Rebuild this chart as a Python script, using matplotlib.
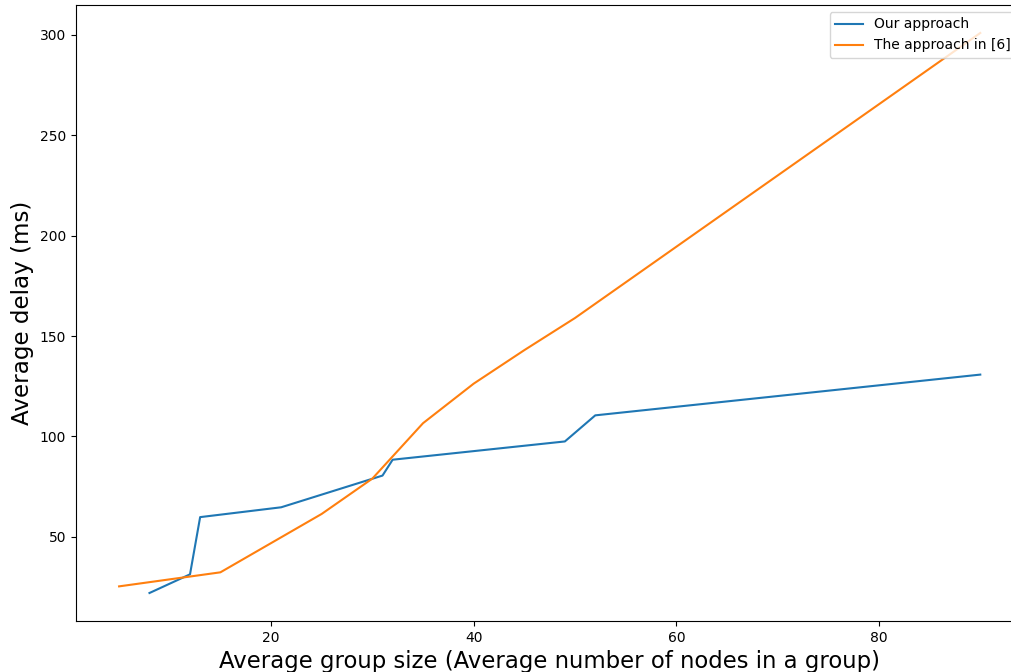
import numpy as np
import matplotlib.pyplot as plt

# group size vs. average delay for both schemes
ours_size = [8, 12, 13, 21, 31, 32, 49, 52, 90]
ours_delay = [22, 31.3, 59.8, 64.7, 80.5, 88.4, 97.5, 110.5, 130.8]

ref_size = [5, 15, 25, 30, 35, 40, 45, 50, 90]
ref_delay = [25.3, 32.3, 61.4, 79, 106.6, 126.3, 143, 159, 301]

fig = plt.figure(figsize=(10.11, 6.72), dpi=100)
ax = fig.add_axes([0.0752, 0.0759, 0.937, 0.9167])

ax.plot(ours_size, ours_delay, label="Our approach")
ax.plot(ref_size, ref_delay, label="The approach in [6]")

ax.set_xticks([20, 40, 60, 80])
ax.set_yticks([50, 100, 150, 200, 250, 300])
ax.set_xlabel("Average group size (Average number of nodes in a group)", fontsize=16.4)
ax.set_ylabel("Average delay (ms)", fontsize=16.6)
ax.legend(loc="upper right")

fig.savefig("out.png", dpi=100)
